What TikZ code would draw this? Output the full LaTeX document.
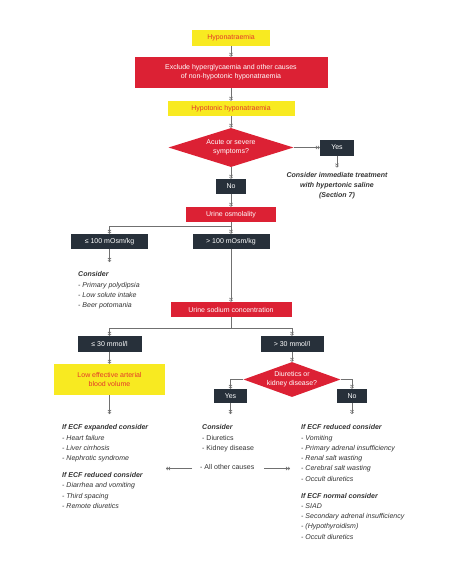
\documentclass[tikz,border=0pt]{standalone}
\usepackage{fontspec}
\setmainfont{Liberation Sans}
\usetikzlibrary{shapes.geometric,arrows.meta}
\definecolor{cred}{HTML}{DC2134}
\definecolor{cyel}{HTML}{F8EA21}
\definecolor{cyeltxt}{HTML}{E3382A}
\definecolor{cdark}{HTML}{27303A}
\definecolor{cline}{HTML}{707070}
\definecolor{ctext}{HTML}{333333}
\begin{document}
\begin{tikzpicture}[x=1pt,y=-1pt,
  box/.style={rectangle, inner sep=0pt, font=\fontsize{7}{9}\selectfont, align=center},
  redbox/.style={box, fill=cred, text=white},
  yelbox/.style={box, fill=cyel, text=cyeltxt},
  darkbox/.style={box, fill=cdark, text=white},
  decision/.style={diamond, aspect=3, inner sep=0pt, fill=cred, text=white, font=\fontsize{7}{9}\selectfont, align=center},
  conn/.style={draw=cline, line width=0.5pt},
  arr/.style={conn, -{Straight Barb[length=1.4pt,width=3.2pt,line width=0.6pt] Straight Barb[length=1.4pt,width=3.2pt,line width=0.6pt]}},
  note/.style={inner sep=0pt, anchor=north west, align=left, font=\fontsize{7}{10.3}\selectfont, text=ctext}
]
\useasboundingbox[fill=white] (0,0) rectangle (474,567);

% boxes
\node[yelbox, minimum width=78pt, minimum height=16pt] (hypo) at (231,38) {Hyponatraemia};
\node[redbox, minimum width=193pt, minimum height=31pt] (excl) at (231,72.5) {Exclude hyperglycaemia and other causes\\of non-hypotonic hyponatraemia};
\node[yelbox, minimum width=127pt, minimum height=15pt] (hypot) at (231,108.5) {Hypotonic hyponatraemia};
\node[decision, minimum width=125pt, minimum height=39pt] (acute) at (231,147.5) {Acute or severe\\symptoms?};
\node[darkbox, minimum width=34pt, minimum height=16pt] (yes1) at (337,147.5) {Yes};
\node[inner sep=0pt, align=center, font=\fontsize{7}{10}\selectfont\bfseries\itshape, text=ctext] (treat) at (337,186) {Consider immediate treatment\\with hypertonic saline\\(Section 7)};
\node[darkbox, minimum width=30pt, minimum height=15pt] (no1) at (231,186.5) {No};
\node[redbox, minimum width=90pt, minimum height=15pt] (uosm) at (231,214.5) {Urine osmolality};
\node[darkbox, minimum width=77pt, minimum height=15pt] (le100) at (109.5,241.5) {≤ 100 mOsm/kg};
\node[darkbox, minimum width=77pt, minimum height=15pt] (gt100) at (231,241.5) {> 100 mOsm/kg};
\node[note] (cons1) at (78,271.5) {\textbf{\itshape Consider}\\\itshape - Primary polydipsia\\\itshape - Low solute intake\\\itshape - Beer potomania};
\node[redbox, minimum width=121pt, minimum height=15pt] (una) at (231,309.5) {Urine sodium concentration};
\node[darkbox, minimum width=64pt, minimum height=16pt] (le30) at (109.5,344) {≤ 30 mmol/l};
\node[darkbox, minimum width=63pt, minimum height=16pt] (gt30) at (292,344) {> 30 mmol/l};
\node[yelbox, minimum width=111pt, minimum height=31pt] (lowe) at (109.5,379.5) {Low effective arterial\\blood volume};
\node[decision, minimum width=97pt, minimum height=35pt] (diur) at (292,379.5) {Diuretics or\\kidney disease?};
\node[darkbox, minimum width=33pt, minimum height=14pt] (yes2) at (230.5,396) {Yes};
\node[darkbox, minimum width=30pt, minimum height=14pt] (no2) at (352,396) {No};

% text lists
\node[note] (ecfexp) at (62,424.5) {\textbf{\itshape If ECF expanded consider}\\\itshape - Heart failure\\\itshape - Liver cirrhosis\\\itshape - Nephrotic syndrome\\[6.5pt]\textbf{\itshape If ECF reduced consider}\\\itshape - Diarrhea and vomiting\\\itshape - Third spacing\\\itshape - Remote diuretics};
\node[note] (cons2) at (202,424.5) {\textbf{\itshape Consider}\\- Diuretics\\- Kidney disease};
\node[note] (other) at (200,464.5) {- All other causes};
\node[note] (ecfred) at (301,424.5) {\textbf{\itshape If ECF reduced consider}\\\itshape - Vomiting\\\itshape - Primary adrenal insufficiency\\\itshape - Renal salt wasting\\\itshape - Cerebral salt wasting\\\itshape - Occult diuretics\\[6.5pt]\textbf{\itshape If ECF normal consider}\\\itshape - SIAD\\\itshape - Secondary adrenal insufficiency\\\itshape - (Hypothyroidism)\\\itshape - Occult diuretics};

% free ends
\coordinate (s1) at (231,226);
\coordinate (s2) at (231,328);
\coordinate (le100end) at (109.5,262);
\coordinate (lowend) at (109.5,414);
\coordinate (yes2end) at (230.5,414);
\coordinate (no2end) at (352,414);
\coordinate (oL) at (166,468.5);
\coordinate (oR) at (290,468.5);

% connectors
\draw[arr] (hypo) -- (excl);
\draw[arr] (excl) -- (hypot);
\draw[arr] (hypot) -- (acute);
\draw[arr] (acute.east) -- (yes1.west);
\draw[arr] (yes1) -- ([yshift=5pt]treat.north);
\draw[arr] (acute) -- (no1);
\draw[arr] (no1) -- (uosm);
\draw[arr] (uosm.south) -- (s1) -| (le100.north);
\draw[arr] (s1) -- (gt100.north);
\draw[arr] (le100) -- (le100end);
\draw[arr] (gt100) -- (una);
\draw[arr] (una.south) -- (s2) -| (le30.north);
\draw[arr] (s2) -| (gt30.north);
\draw[arr] (le30) -- (lowe);
\draw[arr] (lowe) -- (lowend);
\draw[arr] (gt30) -- (diur);
\draw[arr] (diur.west) -| (yes2.north);
\draw[arr] (diur.east) -| (no2.north);
\draw[arr] (yes2) -- (yes2end);
\draw[arr] (no2) -- (no2end);
\draw[arr] ([xshift=-8pt]other.west |- oL) -- (oL);
\draw[arr] ([xshift=10pt]other.east |- oR) -- (oR);
\end{tikzpicture}
\end{document}
